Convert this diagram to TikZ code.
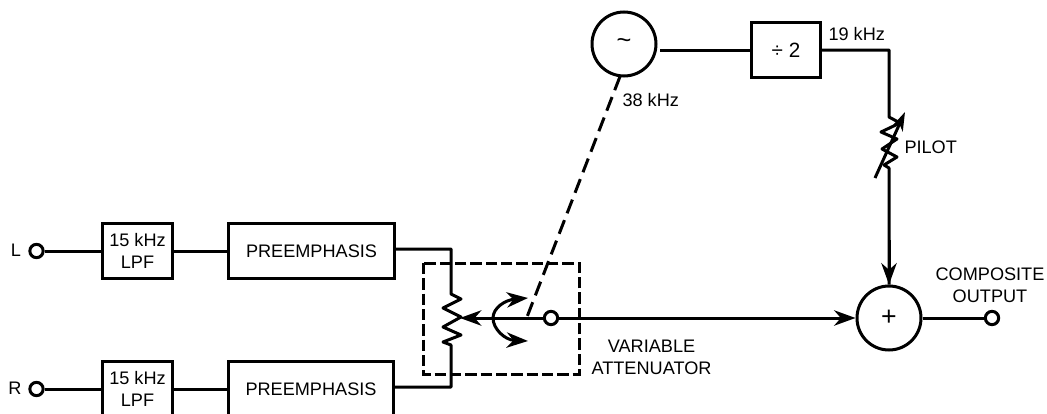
\documentclass[tikz,border=0pt]{standalone}
\usepackage{fontspec}
\setmainfont{Liberation Sans}
\usetikzlibrary{arrows.meta,calc}
\tikzset{bigtip/.tip={Stealth[length=16pt, width=11.5pt, inset=5pt]}}
\begin{document}
\begin{tikzpicture}[
  x=0.75pt, y=-0.75pt,
  line width=2.25pt,
  lbl/.style={font=\fontsize{13.6}{16.6}\selectfont, align=center, inner sep=0pt},
  box/.style={draw, lbl, minimum height=41pt},
  lpf/.style={box, minimum width=52pt},
  pre/.style={box, minimum width=124pt},
  term/.style={draw, circle, inner sep=0pt, minimum size=10pt},
  sumr/.style={draw, circle, lbl, minimum size=48pt},
  dash1/.style={dash pattern=on 8.5pt off 3pt},
  dash2/.style={dash pattern=on 11pt off 5.5pt}
]
\useasboundingbox (0,0) rectangle (1047,414);
\clip (0,0) rectangle (1047,414);
% left inputs
\node[lbl] (labL) at (16,250) {L};
\node[lbl] (labR) at (15,388) {R};
\node[term] (inL) at (36.5,251) {};
\node[term] (inR) at (36.5,389) {};
\node[lpf] (lpfL) at (137.5,251) {15 kHz\\LPF};
\node[lpf] (lpfR) at (137.5,389) {15 kHz\\LPF};
\node[pre] (preL) at (311.5,251) {PREEMPHASIS};
\node[pre] (preR) at (311,389) {PREEMPHASIS};
% upper row
\node[sumr] (osc) at (624,44) {\fontsize{19}{19}\selectfont\~{}};
\node[box, minimum width=52pt] (div) at (786,50) {\fontsize{15.5}{16}\selectfont\textdiv{} 2};
\node[lbl, anchor=west] (lab19) at (827,34) {19 kHz};
\node[lbl, anchor=west] (lab38) at (621,100) {38 kHz};
\node[lbl, anchor=west] (labPil) at (903,147) {PILOT};
% summer and output
\node[sumr] (sum) at (889,318) {\fontsize{20}{20}\selectfont +};
\node[term] (out) at (992,318) {};
\node[term] (tap) at (551,318) {};
\node[lbl] (labOut) at (990,285) {COMPOSITE\\OUTPUT};
\node[lbl] (labVar) at (651.5,357.5) {VARIABLE\\ATTENUATOR};
% attenuator
\coordinate (potT) at (451,249);
\coordinate (potB) at (451,387);
\coordinate (wiper) at (460,318);
\coordinate (pick) at (527,317);
\draw (inL) -- (lpfL);
\draw (lpfL) -- (preL);
\draw (inR) -- (lpfR);
\draw (lpfR) -- (preR);
\draw[line join=round] (preL.east |- potT) -- (potT) -- (451,294) -- (461,299) -- (443,308) -- (461,317) -- (443,327) -- (461,335) -- (443,342) -- (451,345) -- (potB) -- (preR.east |- potB);
\draw[-{bigtip}] (tap) -- (wiper);
\draw[{bigtip}-{bigtip}] (528,298) .. controls (505,300) and (493,308) .. (493,318) .. controls (493,329) and (505,340) .. (528,341);
\draw[dash1] (423,263) rectangle (579,374);
\draw[dash2] (osc) ++(-4,32.5) -- (pick);
% pilot path
\draw[shorten <=2.5pt] (osc) ++(33,6) -- (div);
\coordinate (pilT) at (889,50);
\draw[line join=round] (div) -- (pilT) -- (889,117) -- (900,123) -- (881,132) -- (897,139) -- (882,149) -- (897,157) -- (884,165) -- (889,168) -- (sum);
\draw[-{Stealth[length=14pt, width=9pt, inset=4pt]}] (875,178) -- (905,112);
\draw[-{bigtip}] (889,240) -- (sum);
\draw[-{bigtip}] (tap) -- (sum);
\draw (sum) -- (out);
\end{tikzpicture}
\end{document}
